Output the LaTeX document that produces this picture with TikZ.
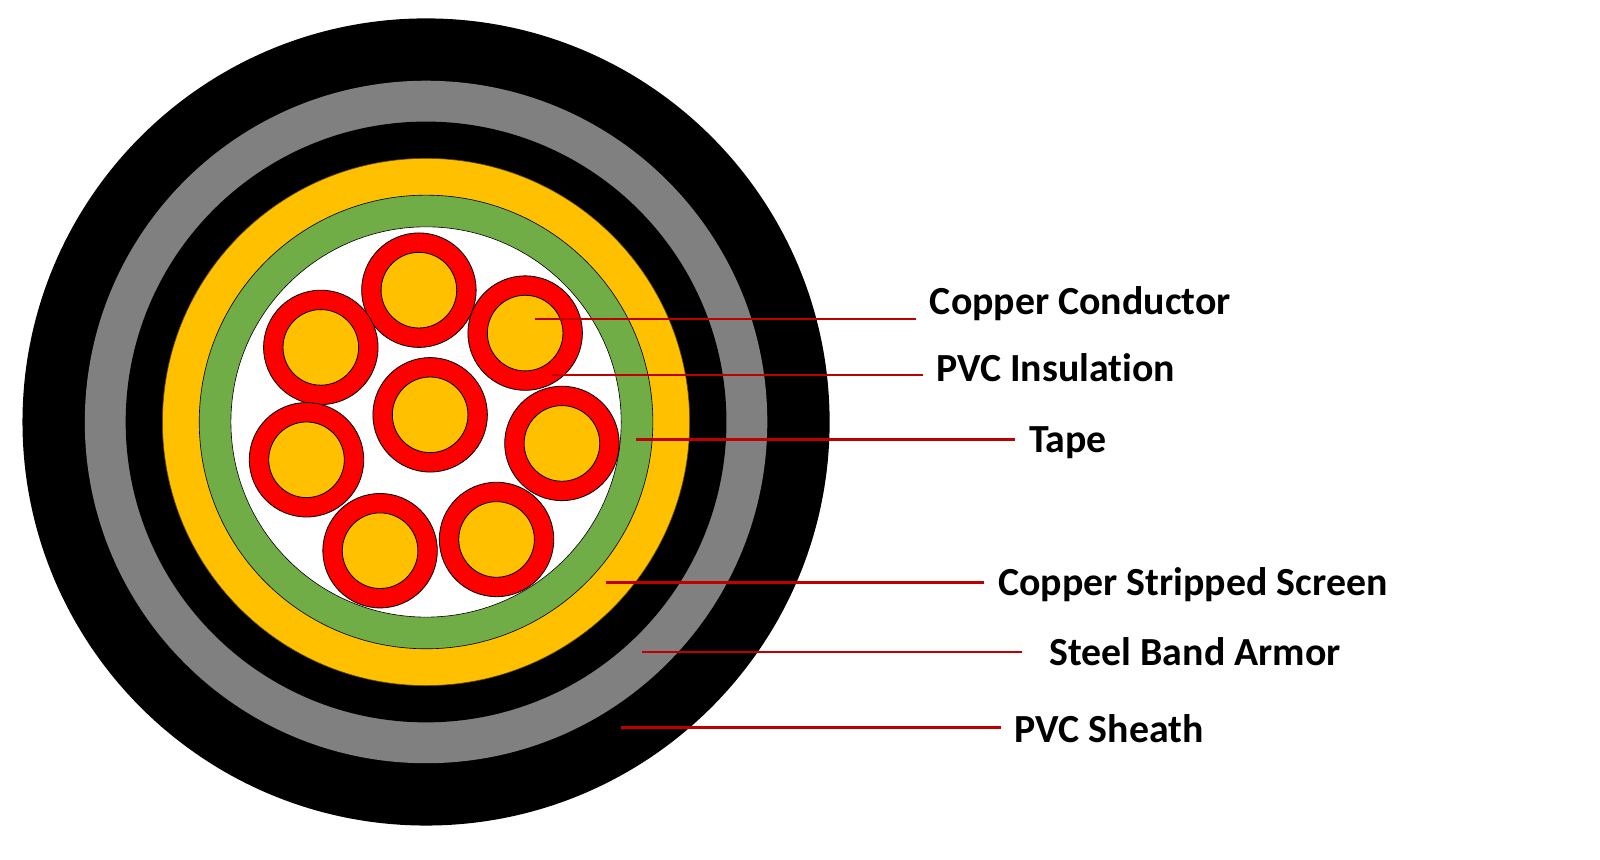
\documentclass[tikz,border=0pt]{standalone}
\usepackage{fontspec}
\setmainfont{Carlito}[Ligatures=NoCommon]
\definecolor{gold}{HTML}{FFC000}
\definecolor{grn}{HTML}{70AD47}
\definecolor{gry}{HTML}{808080}
\definecolor{lred}{HTML}{C00000}
\begin{document}
\begin{tikzpicture}[x=1pt,y=-1pt,
  lbl/.style={anchor=west,font=\bfseries\fontsize{39}{44}\selectfont,inner sep=0pt},
  ld/.style={draw=lred,line width=2.4pt},
  wire/.style={fill=red,draw=black,line width=0.8pt}]
\useasboundingbox (0,0) rectangle (1566,841);
\fill[white] (0,0) rectangle (1566,841);
\coordinate (c) at (417,413);
\fill[black] (c) circle (395);
\fill[gry] (c) circle (334);
\fill[black] (c) circle (294);
\filldraw[fill=gold,draw=black!60!gold,line width=0.6pt] (c) circle (258);
\filldraw[fill=grn,draw=black,line width=0.6pt] (c) circle (222);
\filldraw[fill=white,draw=black,line width=0.6pt] (c) circle (191);
\foreach \p in {(410,284),(314,340),(514,326),(421,406),(300,450),(550,434),(372,539),(486,528)}{
  \filldraw[wire] \p circle (56);
  \filldraw[fill=gold,draw=black,line width=0.8pt] \p circle (37);
}
\node[lbl] (t1) at (910,297) {Copper Conductor};
\node[lbl] (t2) at (916,360) {PVC Insulation};
\node[lbl] (t3) at (1007,433) {Tape};
\node[lbl] (t4) at (977,572) {Copper Stripped Screen};
\node[lbl] (t5) at (1027,638) {Steel Band Armor};
\node[lbl] (t6) at (993,713) {PVC Sheath};
\coordinate (a1) at (524,312); \coordinate (b1) at (897,312);
\coordinate (a2) at (540,367); \coordinate (b2) at (903,367);
\coordinate (a3) at (622,430); \coordinate (b3) at (993,430);
\coordinate (a4) at (593,570); \coordinate (b4) at (963,570);
\coordinate (a5) at (628,638); \coordinate (b5) at (1000,638);
\coordinate (a6) at (608,712); \coordinate (b6) at (980,712);
\foreach \i in {1,...,6}{\draw[ld] (a\i) -- (b\i);}
\end{tikzpicture}
\end{document}
